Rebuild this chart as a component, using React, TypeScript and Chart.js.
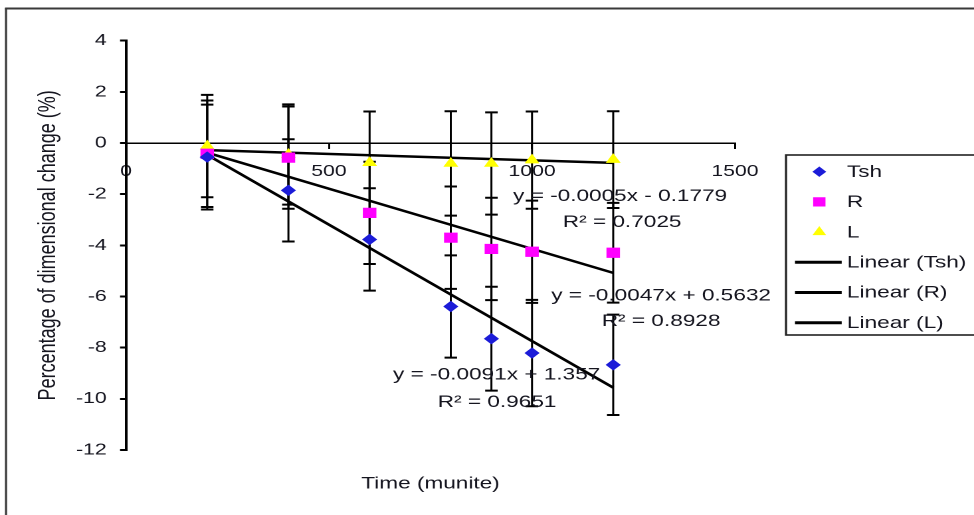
import React, { useEffect, useRef } from 'react';
import { Chart, registerables } from 'chart.js';
import { drawPoint } from 'chart.js/helpers';

Chart.register(...registerables);

// Sampling times (minutes)
const time = [200, 400, 600, 800, 900, 1000, 1200];

// Mean dimensional change (%) for each direction
const tsh = [-0.55, -1.85, -3.77, -6.39, -7.65, -8.21, -8.67];
const r = [-0.42, -0.57, -2.73, -3.7, -4.14, -4.25, -4.29];
const l = [-0.12, -0.45, -0.77, -0.8, -0.8, -0.67, -0.65];

// Error bar half-lengths (%)
const tshErr = [2.05, 2.0, 2.0, 2.0, 2.03, 2.08, 1.96];
const rErr = [2.08, 2.0, 2.0, 2.0, 2.0, 2.0, 1.95];
const lErr = [2.0, 1.96, 2.0, 2.04, 2.0, 1.9, 1.89];

// Linear fits: slope, intercept and R²
const seriesNames = ['Tsh', 'R', 'L'];
const slopes = [-0.0091, -0.0047, -0.0005];
const intercepts = [1.357, 0.5632, -0.1779];
const rSquared = [0.9651, 0.8928, 0.7025];

// Axis ticks
const xTicks = [0, 500, 1000, 1500];
const yTicks = [-12, -10, -8, -6, -4, -2, 0, 2, 4];

// The drawing is done on a narrower canvas that is widened on screen
const PAGE_W = 974;
const PAGE_H = 515;
const CANVAS_W = 733;
const SX = PAGE_W / CANVAS_W;
const px = (v: number) => v / SX;

const FONT = "'Liberation Sans', Arial, sans-serif";
const TEXT = '#15151f';

const colors = ['#1c1cd8', '#ff00ff', '#ffff00'];
const pointStyles = ['rectRot', 'rect', 'triangle'];
const pointRadii = [5, 6.5, 5.5];
const means = [tsh, r, l];
const errs = [tshErr, rErr, lErr];

const fmtEq = (m: number, b: number) => `y = ${m}x ${b < 0 ? '-' : '+'} ${Math.abs(b)}`;

const framePlugin = {
  id: 'frame',
  beforeDraw(chart: any) {
    const { ctx } = chart;
    ctx.save();
    ctx.fillStyle = '#ffffff';
    ctx.fillRect(0, 0, chart.width, chart.height);
    ctx.strokeStyle = '#3a3a3a';
    ctx.lineWidth = 2;
    ctx.beginPath();
    ctx.moveTo(px(5), 8.5);
    ctx.lineTo(chart.width + 10, 8.5);
    ctx.stroke();
    ctx.lineWidth = 1.6;
    ctx.beginPath();
    ctx.moveTo(px(6), 8);
    ctx.lineTo(px(6), chart.height + 10);
    ctx.stroke();
    ctx.restore();
  },
};

const errorBarPlugin = {
  id: 'errorBars',
  beforeDatasetsDraw(chart: any) {
    const { ctx } = chart;
    const xs = chart.scales.x;
    const ys = chart.scales.y;
    const cap = px(12.5) / 2;
    ctx.save();
    ctx.strokeStyle = '#000';
    chart.data.datasets.forEach((ds: any) => {
      if (!ds.errors) return;
      ds.data.forEach((p: any, k: number) => {
        const e = ds.errors[k];
        const x = xs.getPixelForValue(p.x);
        const yt = ys.getPixelForValue(p.y + e);
        const yb = ys.getPixelForValue(p.y - e);
        ctx.lineWidth = 1.5;
        ctx.beginPath();
        ctx.moveTo(x, yt);
        ctx.lineTo(x, yb);
        ctx.stroke();
        ctx.lineWidth = 2;
        ctx.beginPath();
        ctx.moveTo(x - cap, yt);
        ctx.lineTo(x + cap, yt);
        ctx.moveTo(x - cap, yb);
        ctx.lineTo(x + cap, yb);
        ctx.stroke();
      });
    });
    ctx.restore();
  },
};

const equationPlugin = {
  id: 'equations',
  afterDatasetsDraw(chart: any, _args: any, opts: any) {
    const { ctx } = chart;
    const xs = chart.scales.x;
    const ys = chart.scales.y;
    ctx.save();
    ctx.font = `17px ${FONT}`;
    ctx.fillStyle = TEXT;
    ctx.textAlign = 'center';
    ctx.textBaseline = 'middle';
    slopes.forEach((m, i) => {
      const e = opts.eqAt[i];
      const q = opts.r2At[i];
      ctx.fillText(fmtEq(m, intercepts[i]), xs.getPixelForValue(e.x), ys.getPixelForValue(e.y));
      ctx.fillText(`R² = ${rSquared[i]}`, xs.getPixelForValue(q.x), ys.getPixelForValue(q.y));
    });
    ctx.restore();
  },
};

const boxLegendPlugin = {
  id: 'boxLegend',
  afterDraw(chart: any) {
    const { ctx } = chart;
    const top = 155;
    const bottom = 335;
    const first = 171.7;
    const step = 30.2;
    ctx.save();
    ctx.strokeStyle = '#222';
    ctx.lineWidth = 1.6;
    ctx.strokeRect(px(786), top, chart.width, bottom - top);
    ctx.font = `17px ${FONT}`;
    ctx.textBaseline = 'middle';
    ctx.textAlign = 'left';
    chart.data.datasets.forEach((ds: any, i: number) => {
      const y = first + i * step;
      if (ds.type === 'scatter') {
        ctx.fillStyle = ds.backgroundColor;
        ctx.strokeStyle = ds.borderColor;
        ctx.lineWidth = 1;
        drawPoint(ctx, { pointStyle: ds.pointStyle, rotation: 0, radius: ds.pointRadius * 0.9, borderWidth: 1 }, px(819.3), y);
      } else {
        ctx.strokeStyle = ds.borderColor;
        ctx.lineWidth = 3;
        ctx.beginPath();
        ctx.moveTo(px(795), y);
        ctx.lineTo(px(841.7), y);
        ctx.stroke();
      }
      ctx.fillStyle = TEXT;
      ctx.fillText(ds.label, px(847), y + 0.5);
    });
    ctx.restore();
  },
};

export default function App() {
  const ref = useRef<HTMLCanvasElement>(null);

  useEffect(() => {
    const canvas = ref.current;
    if (!canvas) return;

    const scatterSets = seriesNames.map((name, i) => ({
      type: 'scatter' as const,
      label: name,
      xAxisID: 'x',
      yAxisID: 'y',
      data: time.map((t, k) => ({ x: t, y: means[i][k] })),
      errors: errs[i],
      pointStyle: pointStyles[i],
      pointRadius: pointRadii[i],
      backgroundColor: colors[i],
      borderColor: colors[i],
      borderWidth: 1,
      showLine: false,
      order: 0,
    }));

    const trendSets = seriesNames.map((name, i) => ({
      type: 'line' as const,
      label: `Linear (${name})`,
      xAxisID: 'x',
      yAxisID: 'y',
      data: [time[0], time[time.length - 1]].map((t) => ({ x: t, y: slopes[i] * t + intercepts[i] })),
      borderColor: '#000',
      backgroundColor: '#000',
      borderWidth: 2.5,
      pointRadius: 0,
      fill: false,
      tension: 0,
      order: 1,
    }));

    const chart = new Chart(canvas, {
      type: 'scatter',
      data: { datasets: [...scatterSets, ...trendSets] as any },
      options: {
        responsive: false,
        animation: false,
        devicePixelRatio: 2,
        events: [],
        layout: { padding: { left: 25.9, right: CANVAS_W - px(735), top: 40.7, bottom: 20.8 } },
        plugins: {
          legend: { display: false },
          tooltip: { enabled: false },
          equations: {
            eqAt: [{ x: 913, y: -9.07 }, { x: 1318, y: -5.98 }, { x: 1217, y: -2.09 }],
            r2At: [{ x: 914, y: -10.13 }, { x: 1318, y: -6.96 }, { x: 1222, y: -3.09 }],
          },
        } as any,
        scales: {
          x: {
            type: 'linear',
            min: 0,
            max: 1500,
            position: { y: 0 } as any,
            afterBuildTicks: (s: any) => {
              s.ticks = xTicks.map((v) => ({ value: v }));
            },
            grid: { display: true, drawOnChartArea: false, drawTicks: true, tickLength: 5, color: '#000', lineWidth: 1.5 },
            border: { display: true, color: '#000', width: 1.5 },
            ticks: {
              padding: 14,
              color: TEXT,
              font: { family: FONT, size: 16 },
              maxRotation: 0,
              autoSkip: false,
              callback: (v: any) => String(v),
            },
          },
          x2: {
            type: 'linear',
            min: 0,
            max: 1500,
            position: 'bottom',
            grid: { display: false, drawTicks: false },
            border: { display: false },
            ticks: { display: false },
            title: {
              display: true,
              text: 'Time (munite)',
              color: TEXT,
              font: { family: FONT, size: 17 },
              padding: { top: 23.8, bottom: 0 },
            },
          },
          y: {
            type: 'linear',
            min: -12,
            max: 4,
            position: 'left',
            afterBuildTicks: (s: any) => {
              s.ticks = yTicks.map((v) => ({ value: v }));
            },
            afterFit: (s: any) => {
              s.width = px(126) - 25.9;
            },
            grid: { display: true, drawOnChartArea: false, drawTicks: true, tickLength: 4.5, color: '#000', lineWidth: 2 },
            border: { display: true, color: '#000', width: 2 },
            ticks: {
              padding: 10,
              color: TEXT,
              font: { family: FONT, size: 16 },
              callback: (v: any) => String(v),
            },
            title: {
              display: true,
              text: 'Percentage of dimensional change (%)',
              color: TEXT,
              font: { family: FONT, size: 18 },
              padding: { top: 0, bottom: 0 },
            },
          },
        } as any,
      },
      plugins: [framePlugin, errorBarPlugin, equationPlugin, boxLegendPlugin],
    });

    return () => chart.destroy();
  }, []);

  return (
    <div
      style={{
        position: 'fixed',
        left: 0,
        top: 0,
        width: PAGE_W,
        height: PAGE_H,
        overflow: 'hidden',
        background: '#fff',
      }}
    >
      <canvas
        ref={ref}
        width={CANVAS_W}
        height={PAGE_H}
        style={{
          display: 'block',
          width: CANVAS_W,
          height: PAGE_H,
          transform: `scaleX(${SX})`,
          transformOrigin: '0 0',
        }}
      />
    </div>
  );
}
